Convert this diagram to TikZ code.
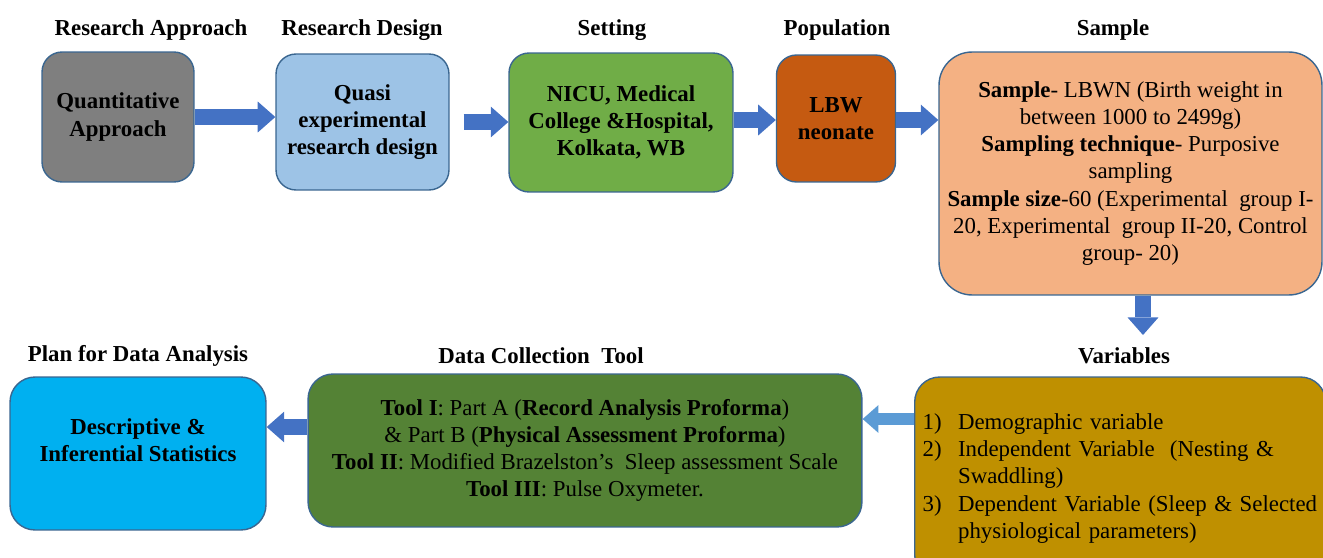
\documentclass[tikz,border=0pt]{standalone}
\usepackage{fontspec}
\setmainfont{Liberation Serif}
\usepackage{xcolor}
\usetikzlibrary{arrows.meta}

\definecolor{boxline}{HTML}{3A6690}
\definecolor{arrowblue}{HTML}{4472C4}
\definecolor{arrowlight}{HTML}{5B9BD5}
\definecolor{greybox}{HTML}{7F7F7F}
\definecolor{paleblue}{HTML}{9DC3E6}
\definecolor{leafgreen}{HTML}{70AD47}
\definecolor{rust}{HTML}{C55A11}
\definecolor{peach}{HTML}{F4B183}
\definecolor{gold}{HTML}{BF9000}
\definecolor{darkgreen}{HTML}{548235}
\definecolor{skyblue}{HTML}{00B0F0}

\begin{document}
\begin{tikzpicture}[x=0.02cm, y=-0.02cm,
  ttl/.style={font=\fontsize{13}{15.5}\selectfont\bfseries},
  box/.style={rectangle, rounded corners=0.4cm, draw=boxline, line width=0.8pt, align=center, inner sep=2pt, font=\fontsize{13}{15.5}\selectfont},
  fatarrow/.style={draw=arrowblue, line width=9pt, -{Triangle[length=10pt, width=17.6pt, line width=0pt]}},
  thinarrow/.style={draw=arrowlight, line width=6.8pt, -{Triangle[length=9pt, width=15.9pt, line width=0pt]}}]

\useasboundingbox (0,0) rectangle (1323,558);
\clip (0,0) rectangle (1323,558);

\node (qa) [box, fill=greybox, minimum width=3.04cm, minimum height=2.6cm, font=\fontsize{13}{15.5}\selectfont\bfseries] at (118,117) {Quantitative\\Approach};

\node (qd) [box, fill=paleblue, minimum width=3.46cm, minimum height=2.72cm, font=\fontsize{13}{15.5}\selectfont\bfseries] at (362.5,122) {Quasi\\experimental\\research design};

\node (set) [box, fill=leafgreen, minimum width=4.48cm, minimum height=2.78cm, font=\fontsize{13}{15.5}\selectfont\bfseries] at (621,122.5) {NICU, Medical\\College \&Hospital,\\Kolkata, WB};

\node (pop) [box, fill=rust, minimum width=2.38cm, minimum height=2.54cm, font=\fontsize{13}{15.5}\selectfont\bfseries] at (836,118.5) {LBW\\neonate};

\node (smp) [box, fill=peach, rounded corners=0.66cm, minimum width=7.66cm, minimum height=4.86cm] at (1130.5,173.5) {\textbf{Sample}- LBWN (Birth weight in\\between 1000 to 2499g)\\\textbf{Sampling technique}- Purposive\\sampling\\\textbf{Sample size}-60 (Experimental\ \ group I-\\20, Experimental\ \ group II-20, Control\\group- 20)};

\node (var) [box, fill=gold, anchor=west, rounded corners=0.5cm, minimum width=8.2cm, minimum height=4.06cm, text width=7.9cm, inner xsep=0.16cm, align=left] at (914,478.5) {\mbox{\makebox[1.55em][l]{1)}Demographic variable}\\\mbox{\makebox[1.55em][l]{2)}Independent Variable\ \ (Nesting \&}\\\mbox{\makebox[1.55em][l]{}Swaddling)}\\\mbox{\makebox[1.55em][l]{3)}Dependent Variable (Sleep \& Selected}\\\mbox{\makebox[1.55em][l]{}physiological parameters)}};

\node (dct) [box, fill=darkgreen, rounded corners=0.5cm, minimum width=11.08cm, minimum height=3.06cm] at (585,450.5) {\textbf{Tool I}: Part A (\textbf{Record Analysis Proforma})\\\& Part B (\textbf{Physical Assessment Proforma})\\\textbf{Tool II}: Modified Brazelston’s\ \ Sleep assessment Scale\\\textbf{Tool III}: Pulse Oxymeter.};

\node (dsc) [box, fill=skyblue, rounded corners=0.5cm, minimum width=5.12cm, minimum height=3.06cm, font=\fontsize{13}{15.5}\selectfont\bfseries] at (138,453.5) {Descriptive \&\\Inferential Statistics\\\mbox{}};

\node (tqa) [ttl] at (151,30) {Research Approach};
\node (tqd) [ttl] at (362,30) {Research Design};
\node (tset) [ttl] at (612,30) {Setting};
\node (tpop) [ttl] at (837,30) {Population};
\node (tsmp) [ttl] at (1113,30) {Sample};
\node (tdsc) [ttl] at (138,356) {Plan for Data Analysis};
\node (tdct) [ttl] at (541,356) {Data Collection\ \ Tool};
\node (tvar) [ttl] at (1124,356) {Variables};

\coordinate (vartip) at (1143,335);
\coordinate (lowrow) at (0,419);
\coordinate (lowrow2) at (0,427);

\draw[fatarrow] (qa.east) -- (qa.east -| qd.west);
\draw[fatarrow, shorten <=14*0.02cm] (qd.east) -- (qd.east -| set.west);
\draw[fatarrow] (set.east |- 0,120) -- (pop.west |- 0,120);
\draw[fatarrow] (pop.east |- 0,120) -- (smp.west |- 0,120);
\draw[fatarrow] (smp.south -| vartip) -- (vartip);
\draw[thinarrow] (var.west |- lowrow) -- (dct.east |- lowrow);
\draw[fatarrow] (dct.west |- lowrow2) -- (dsc.east |- lowrow2);

\end{tikzpicture}
\end{document}
